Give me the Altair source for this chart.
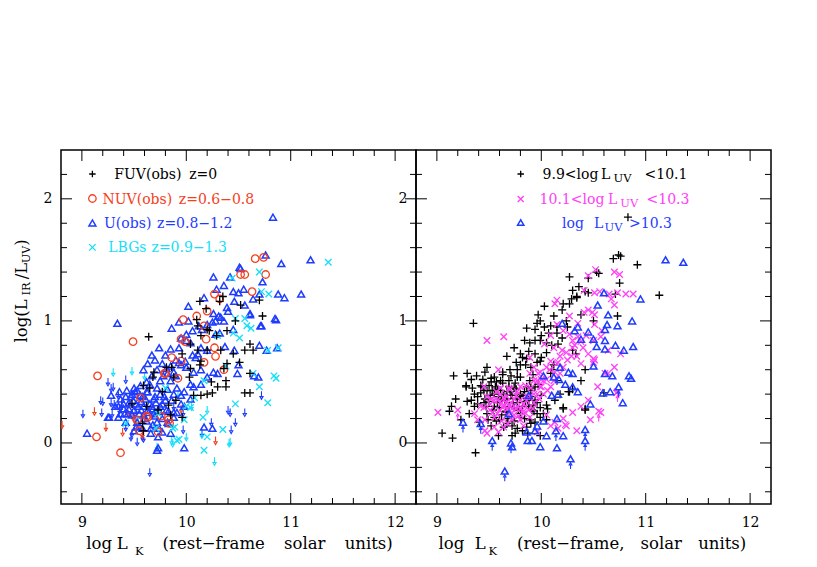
import altair as alt
import pandas as pd

# ---------------- data ----------------
# Left panel: log L_K , log(L_IR/L_UV)
FUV_Z0 = [(9.64,0.87),(10.13,1.16),(10.19,1.10),(10.35,1.20),(10.32,1.16),(10.52,1.13),(10.73,1.04),(10.70,1.17),
          (10.10,1.01),(10.11,0.96),(10.20,0.93),(10.22,0.92),(10.39,0.92),(10.47,1.00),(10.29,0.88),(10.14,0.88),
          (10.04,0.81),(9.96,0.73),(10.11,0.76),(10.20,0.76),(10.33,0.76),(10.45,0.73),(10.56,0.76),(10.61,0.81),
          (10.64,0.76),(10.51,0.66),(10.39,0.65),(10.36,0.61),(10.14,0.67),(10.13,0.64),(10.04,0.61),(9.86,0.62),
          (9.81,0.62),(9.69,0.58),(9.68,0.54),(9.88,0.54),(10.03,0.54),(10.61,0.57),(10.38,0.51),(10.38,0.46),
          (10.24,0.50),(10.30,0.46),(9.59,0.47),(9.65,0.45),(10.20,0.40),(10.14,0.39),(10.07,0.39),(10.25,0.41),
          (10.56,0.41),(10.61,0.41),(9.48,0.32),(9.83,0.31),(9.85,0.23),(9.96,0.21),(9.58,0.16),(9.59,0.10),
          (9.73,0.27),(9.62,0.30),(9.77,0.42),(9.90,0.35)]
NUV_Z07 = [(10.66,1.51),(10.74,1.52),(10.52,1.38),(10.56,1.38),(10.76,1.38),(10.27,1.22),(10.32,1.18),(10.63,1.24),
           (10.20,1.08),(10.10,1.04),(9.97,1.01),(9.49,0.83),(9.95,0.85),(10.17,0.96),(10.19,0.85),(10.27,0.78),
           (10.28,0.71),(9.86,0.70),(9.95,0.67),(9.79,0.57),(9.92,0.53),(10.17,0.66),(10.36,0.60),(9.80,0.57),
           (9.56,0.37),(9.63,0.21),(9.53,0.19),(9.83,0.19),(9.73,0.09),(9.55,0.10),(9.15,0.55),(9.14,0.05),
           (9.37,-0.08),(9.62,0.22),(9.76,0.22),(9.84,0.16),(9.99,0.83)]
NUV_LIM = [(8.81,0.15),(9.12,0.26),(9.23,0.13),(9.39,0.09),(9.44,0.25),(9.48,0.23),(10.28,0.02),(9.95,0.28),
           (9.58,0.07),(9.50,0.20)]
U_Z1 = [(10.83,1.85),(11.19,1.50),(10.91,1.47),(10.76,1.54),(10.52,1.43),(10.51,1.44),(10.26,1.36),(10.42,1.36),
        (10.29,1.26),(10.36,1.29),(10.45,1.24),(10.50,1.23),(10.55,1.26),(10.64,1.18),(10.70,1.22),(10.73,1.32),
        (10.88,1.22),(10.94,1.19),(11.10,1.22),(10.02,1.12),(10.17,1.19),(10.26,1.06),(10.40,1.08),(10.61,1.06),
        (10.85,1.02),(10.72,0.96),(9.34,0.98),(9.86,0.94),(9.93,0.99),(10.02,1.00),(10.12,0.96),(10.25,0.99),
        (10.33,1.03),(10.36,1.00),(10.28,0.89),(10.32,0.90),(10.00,0.84),(10.04,0.82),(9.93,0.78),(9.74,0.78),
        (9.67,0.72),(9.85,0.77),(10.14,0.78),(10.20,0.76),(10.37,0.79),(10.46,0.76),(10.77,0.76),(10.87,0.78),
        (10.70,0.80),(10.86,1.01),(10.71,0.96),(10.61,1.05),(9.59,0.60),(9.77,0.65),(9.81,0.61),(9.95,0.64),
        (10.00,0.62),(10.07,0.58),(10.14,0.60),(10.30,0.57),(10.49,0.57),(10.69,0.54),(10.65,0.55),(10.50,0.64),
        (9.48,0.40),(9.56,0.39),(9.37,0.36),(9.42,0.38),(9.50,0.45),(9.53,0.43),(9.65,0.48),(9.72,0.45),
        (9.85,0.51),(9.91,0.45),(9.98,0.42),(10.04,0.48),(9.59,0.30),(9.65,0.32),(9.70,0.38),(9.79,0.38),
        (9.86,0.35),(9.95,0.32),(9.25,0.21),(9.32,0.30),(9.37,0.24),(9.44,0.24),(9.55,0.24),(9.52,0.32),
        (9.59,0.23),(9.81,0.27),(9.50,0.10),(9.72,0.17),(9.72,-0.06),(10.17,0.13),(10.25,0.12),(9.05,0.08),
        (9.26,0.21),(9.35,0.21),(9.43,0.43),(9.52,0.13),(9.73,-0.04),(9.98,-0.04),(9.73,0.05),(9.83,0.16),
        (9.56,0.47),(9.62,0.42),(9.68,0.28),(9.75,0.30),(9.62,0.18),(9.66,0.12),(9.45,0.33),(9.40,0.28),
        (9.57,0.27),(9.70,0.22),(9.88,0.25),(9.78,0.55),(9.90,0.68),(10.09,0.70),(10.45,0.93),(10.56,1.13),
        (9.28,0.39),(9.36,0.42),(9.40,0.32),(9.47,0.38),(9.51,0.42),(9.58,0.38),(9.63,0.42),(9.69,0.36),
        (9.75,0.40),(9.82,0.44),(9.88,0.40),(9.95,0.39),(9.63,0.27),(9.69,0.24),(9.77,0.20),(9.82,0.17),
        (9.88,0.21),(9.48,0.23),(9.42,0.17),(9.53,0.17),(9.58,0.12),(9.66,0.08),(9.77,0.09),(9.85,0.08),
        (9.91,0.25),(9.98,0.30),(10.04,0.36),(10.07,0.46),(10.14,0.48),(10.20,0.54),(10.26,0.58),(9.75,0.51),
        (9.82,0.57),(9.88,0.58),(9.93,0.66),(9.99,0.67),(10.06,0.72),(10.11,0.73),(9.95,0.86),(10.00,0.89),
        (10.06,0.92),(10.15,0.93),(10.20,0.97),(10.28,1.00),(10.31,1.04),(10.39,1.11),(10.46,1.16),
        (9.45,0.28),(9.49,0.35),(9.54,0.30),(9.57,0.34),(9.61,0.36),(9.64,0.25),(9.67,0.30),(9.71,0.33),
        (9.74,0.26),(9.77,0.32),(9.80,0.35),(9.83,0.26),(9.60,0.20),(9.55,0.14),(9.68,0.15),(9.74,0.12),
        (9.50,0.27),(9.41,0.24),(9.35,0.30),(9.62,0.50),(9.67,0.55),(9.72,0.60),(9.85,0.63),(9.90,0.55),
        (9.63,0.65),(9.70,0.68),(9.80,0.72)]
U_LIM = [(9.01,0.24),(9.18,0.35),(9.19,0.25),(9.28,0.33),(9.30,0.46),(9.35,0.39),(9.28,0.45),(9.47,0.05),
         (9.53,0.01),(9.65,-0.24),(9.97,0.11),(10.24,0.17),(10.42,0.25),(10.43,0.11),(10.47,0.17),(10.72,0.39),
         (10.15,0.08),(9.97,0.25),(9.38,0.32),(10.40,0.27),(10.56,0.25),(9.25,0.50),(9.42,0.52),(9.58,0.05),
         (9.88,0.30),(9.20,0.34),(9.31,0.32),(9.29,0.24),(9.36,0.27),(9.45,0.32),(9.51,0.25),(9.42,0.13),
         (9.48,0.08),(9.59,0.04)]
LBG = [(11.36,1.48),(10.70,1.40),(10.44,1.35),(10.72,1.24),(10.79,1.22),(10.56,1.02),(10.47,1.02),(10.45,0.90),
       (10.58,0.96),(10.62,0.94),(10.51,0.86),(10.78,0.76),(10.88,0.78),(10.64,0.57),(10.84,0.55),(10.86,0.53),
       (10.70,0.46),(10.78,0.33),(10.47,0.32),(10.08,0.37),(10.16,0.21),(10.35,0.11),(10.20,0.05),(10.17,-0.06),
       (9.91,0.02),(9.93,0.03),(9.71,0.12),(9.87,0.12),(9.98,0.19),(9.73,0.24),(10.17,0.51),(9.42,0.16),
       (10.04,0.29),(9.89,0.13),(10.00,0.30),(9.80,0.45),(10.30,0.88),(10.38,0.63)]
LBG_LIM = [(9.30,0.58),(9.48,0.59),(10.20,0.27),(10.27,-0.15),(10.41,0.00),(10.00,0.05),(10.15,0.07),(9.86,0.02),
           (9.72,-0.03),(9.87,0.00),(10.42,0.01),(9.60,0.55),(9.70,0.25),(9.92,0.40),(10.05,0.30),(9.54,0.18)]

# Right panel: split by log L_UV
LUV_LOW = [(10.76,1.53),(10.74,1.54),(10.69,1.51),(10.92,1.46),(10.55,1.39),(10.53,1.40),(10.45,1.35),(10.27,1.36),
           (10.75,1.31),(10.36,1.28),(10.45,1.23),(10.30,1.25),(10.71,1.22),(11.13,1.21),(10.34,1.19),(10.27,1.14),
           (10.03,1.12),(10.20,1.09),(10.12,1.04),(10.73,1.04),(10.50,1.00),(9.35,0.98),(9.99,1.00),(9.96,0.98),
           (9.86,0.94),(9.94,0.93),(10.03,0.95),(10.09,0.96),(9.94,0.84),(9.99,0.84),(10.05,0.82),(10.16,0.81),
           (9.74,0.78),(9.67,0.71),(9.80,0.73),(9.88,0.75),(9.86,0.69),(9.94,0.73),(9.96,0.66),(10.30,0.76),
           (10.33,0.73),(9.80,0.64),(9.85,0.64),(9.77,0.60),(9.48,0.62),(9.46,0.58),(9.63,0.58),(9.71,0.55),
           (9.29,0.57),(9.16,0.55),(9.55,0.54),(9.61,0.51),(9.69,0.51),(9.77,0.54),(9.89,0.51),(9.97,0.48),
           (10.42,0.60),(10.38,0.51),(10.27,0.42),(10.00,0.39),(9.94,0.35),(10.05,0.31),(9.28,0.46),(9.34,0.45),
           (9.43,0.46),(9.48,0.43),(9.55,0.40),(9.67,0.42),(9.80,0.40),(9.39,0.38),(9.18,0.36),(9.29,0.34),
           (9.36,0.30),(9.45,0.33),(9.55,0.30),(9.69,0.30),(9.77,0.33),(9.85,0.34),(9.14,0.30),(9.12,0.26),
           (9.48,0.24),(9.55,0.21),(9.60,0.19),(9.80,0.21),(9.89,0.19),(9.99,0.21),(10.21,0.29),(10.42,0.27),
           (9.05,0.08),(9.15,0.04),(9.37,-0.08),(9.75,0.08),(9.72,0.14),(10.60,0.41),(10.42,0.28),(10.21,0.28),
           (10.83,1.85),(9.58,0.44),(9.62,0.36),(9.72,0.39),(9.52,0.50),(9.66,0.25),(9.74,0.45),(9.90,0.45),
           (10.10,0.60),(10.00,0.70),(9.92,0.56),(10.15,0.90),(10.24,1.00),(9.91,0.27),(9.64,0.13),(9.82,0.10),
           (9.28,0.47),(9.42,0.47),(9.52,0.53),(9.56,0.46),(9.63,0.49),(9.69,0.46),(9.75,0.49),(9.80,0.54),
           (9.86,0.46),(9.45,0.43),(9.51,0.39),(9.59,0.38),(9.65,0.35),(9.71,0.39),(9.77,0.36),(9.83,0.39),
           (9.90,0.43),(9.94,0.46),(9.39,0.32),(9.47,0.30),(9.60,0.29),(9.66,0.26),(9.74,0.29),(9.80,0.24),
           (9.88,0.30),(9.93,0.26),(9.99,0.29),(10.02,0.24),(9.31,0.24),(9.23,0.19),(9.41,0.17),(9.52,0.14),
           (9.67,0.16),(9.77,0.12),(9.86,0.13),(9.94,0.17),(10.05,0.19),(9.59,0.06),(9.72,0.06),(9.87,0.08),
           (9.99,0.06),(10.06,0.28),(10.13,0.35),(10.18,0.40),(10.26,0.42),(10.30,0.44),(10.15,0.51),(10.09,0.57),
           (10.12,0.64),(9.99,0.67),(9.89,0.82),(9.84,0.84),(10.00,0.88),(10.07,0.90),(9.97,1.05),(10.15,0.95),
           (10.21,1.14),(10.29,1.18),(10.34,1.20),(10.42,1.24),
           (9.33,0.52),(9.38,0.55),(9.44,0.52),(9.50,0.47),(9.53,0.43),(9.57,0.50),(9.61,0.43),(9.64,0.40),
           (9.67,0.36),(9.70,0.42),(9.73,0.33),(9.76,0.44),(9.79,0.38),(9.82,0.30),(9.84,0.42),(9.87,0.35),
           (9.90,0.38),(9.92,0.31),(9.96,0.33),(9.58,0.33),(9.54,0.27),(9.50,0.34),(9.46,0.36),(9.42,0.41),
           (9.36,0.40),(9.33,0.35),(9.62,0.23),(9.68,0.20),(9.74,0.18),(9.78,0.27),(9.84,0.20),(9.90,0.16),
           (9.96,0.24),(9.57,0.18),(9.49,0.19),(9.63,0.56),(9.70,0.60),(9.76,0.66),(9.82,0.70),(9.90,0.62),
           (10.05,0.74),(10.10,0.80),(10.20,0.86),(10.25,0.95),(10.38,1.05)]
LUV_MID = [(10.52,1.42),(10.45,1.37),(10.70,1.40),(10.75,1.38),(10.41,1.25),(10.51,1.23),(10.56,1.24),(10.65,1.22),
           (10.73,1.23),(10.81,1.22),(10.88,1.22),(10.67,1.18),(10.15,1.17),(10.13,1.14),(10.45,1.09),(10.49,1.07),
           (10.51,1.05),(10.27,1.04),(9.48,0.84),(9.64,0.87),(10.15,0.97),(10.21,0.92),(10.27,0.89),(10.09,0.88),
           (10.03,0.81),(10.12,0.78),(10.20,0.76),(10.30,0.78),(10.34,0.71),(10.45,0.73),(10.50,0.69),(10.51,0.68),
           (10.64,0.76),(10.38,0.65),(10.15,0.65),(9.89,0.70),(9.93,0.62),(9.99,0.58),(10.05,0.62),(10.02,0.51),
           (9.89,0.57),(9.96,0.51),(9.80,0.46),(10.06,0.43),(9.96,0.40),(9.89,0.38),(9.80,0.35),(9.59,0.60),
           (9.45,0.46),(9.61,0.40),(9.55,0.35),(9.64,0.30),(9.71,0.33),(9.45,0.29),(9.51,0.27),(9.58,0.24),
           (9.67,0.23),(9.74,0.23),(9.83,0.24),(9.72,0.19),(9.80,0.19),(9.88,0.27),(9.36,0.24),(9.39,0.19),
           (9.20,0.27),(9.46,0.10),(9.59,0.09),(9.83,0.14),(9.96,0.09),(10.09,0.14),(10.23,0.15),(10.34,0.10),
           (10.47,0.19),(10.55,0.26),(10.73,0.42),(10.61,0.57),(9.01,0.25),(9.48,0.08),(10.57,0.25),(10.24,0.14),
           (10.16,0.12),(10.72,0.41),(10.50,0.66),(9.62,0.33),(9.68,0.28),(9.76,0.28),(9.70,0.44),(9.85,0.30),
           (9.93,0.33),(10.00,0.46),
           (9.42,0.30),(9.48,0.38),(9.51,0.32),(9.58,0.35),(9.63,0.29),(9.67,0.38),(9.74,0.36),(9.77,0.30),
           (9.83,0.32),(9.86,0.38),(9.93,0.40),(9.99,0.46),(10.02,0.40),(10.09,0.46),(10.12,0.51),(10.18,0.57),
           (10.21,0.62),(10.25,0.68),(10.29,0.71),(10.30,0.84),(10.35,0.87),(10.38,0.83),(10.43,0.88),(10.50,0.84),
           (10.57,0.87),(10.58,0.92),(10.18,0.71),(10.13,0.58),(10.09,0.67),(10.05,0.52),(9.97,0.57),(9.93,0.51),
           (9.85,0.47),(9.77,0.42),(9.69,0.45),(9.61,0.45),(9.55,0.21),(9.46,0.19),(9.55,0.13),(9.64,0.13),
           (9.71,0.24),(9.83,0.26),(9.89,0.21),(10.05,0.23),(10.13,0.17),(10.21,0.20),(10.30,0.25),(10.38,0.30),
           (10.45,0.35),(10.54,0.46),(10.64,0.57),(10.70,0.62),(10.76,0.73),(10.70,1.13),(10.51,0.97),(10.41,1.07),
           (10.35,0.98),
           (9.60,0.27),(9.66,0.33),(9.72,0.28),(9.78,0.22),(9.52,0.36),(9.57,0.42),(9.64,0.37),(9.70,0.31),
           (9.76,0.39),(9.80,0.28),(9.86,0.35),(9.92,0.28),(9.98,0.36),(9.53,0.25),(9.62,0.18),(9.68,0.16),
           (9.90,0.45),(10.00,0.52),(10.08,0.60),(10.16,0.66),(10.24,0.74),(10.32,0.80),(10.40,0.78)]
LUV_HIGH = [(11.19,1.50),(11.36,1.48),(10.95,1.18),(10.60,1.23),(10.54,1.13),(10.64,1.05),(10.87,1.00),(10.73,0.96),
            (10.63,0.97),(10.61,0.93),(10.35,0.95),(10.32,0.92),(10.20,0.98),(10.45,0.91),(10.38,0.85),(10.50,0.85),
            (10.61,0.84),(10.53,0.79),(10.61,0.77),(10.71,0.80),(10.79,0.76),(10.88,0.79),(10.02,0.55),(10.12,0.54),
            (10.18,0.62),(10.26,0.58),(10.30,0.57),(10.50,0.63),(10.61,0.57),(10.68,0.55),(10.84,0.55),(10.86,0.53),
            (10.17,0.52),(10.30,0.46),(10.35,0.42),(10.23,0.48),(10.10,0.39),(10.16,0.40),(10.74,0.46),(10.59,0.41),
            (10.66,0.42),(10.78,0.33),(10.47,0.32),(10.15,0.20),(10.21,0.06),(9.99,-0.03),(10.15,-0.04),(9.87,0.02),
            (9.91,0.02),(9.88,0.39),(9.69,0.24),(9.42,0.16),(9.25,0.17),(9.53,0.02),(9.72,-0.03),(9.71,0.00),
            (9.96,0.14),(10.02,0.18),(10.14,0.10),(10.42,0.11),(10.42,0.02),(10.28,-0.13),(9.65,-0.23),
            (9.86,0.09),(9.94,0.10),(10.05,0.06)]
# points in the right panel drawn with a lower-limit arrow
HIGH_LIM = [(9.25,0.17),(9.42,0.16),(9.53,0.02),(9.71,0.00),(10.14,0.10),(10.42,0.11),(10.42,0.02),(10.28,-0.13),
            (9.65,-0.23),(10.74,0.46)]
MID_LIM = [(9.20,0.27),(10.55,0.26),(10.73,0.42)]

X_DOMAIN = [8.8, 12.2]
Y_DOMAIN = [-0.5, 2.4]
X_LABELS = [9, 10, 11, 12]
Y_LABELS = [0, 1, 2]
X_MINOR = [9.2, 9.4, 9.6, 9.8, 10.2, 10.4, 10.6, 10.8, 11.2, 11.4, 11.6, 11.8]
Y_MINOR = [-0.4, -0.2, 0.2, 0.4, 0.6, 0.8, 1.2, 1.4, 1.6, 1.8, 2.2]

# ---------------- styling ----------------
W, H = 355, 354
FONT = "DejaVu Serif"
BLACK = "#000000"
RED = "#f5401e"
BLUE = "#1e3cff"
CYAN = "#14defa"
MAGENTA = "#ff40f6"
LEG = 14      # legend font size
TIT = 16.5    # axis title font size
SUB = 11.5    # subscript font size

PLUS = "M-1,0L1,0M0,-1L0,1"
CROSS = "M-1,-1L1,1M-1,1L1,-1"
DOWN = "M0,-1L0,0.45M-0.4,0.3L0,1L0.4,0.3Z"
UP = "M0,1L0,-0.45M-0.4,-0.3L0,-1L0.4,-0.3Z"

DUMMY = pd.DataFrame({"d": [0]})

XAXIS = alt.Axis(values=X_LABELS, format="d", labelPadding=11, title=None, ticks=False,
                 domain=False, grid=False, labelFont=FONT, labelFontSize=14, labelColor=BLACK)
YAXIS = alt.Axis(values=Y_LABELS, format="d", labelPadding=9, title=None, ticks=False,
                 domain=False, grid=False, labelFont=FONT, labelFontSize=14, labelColor=BLACK)


def X(field):
    return alt.X(field, scale=alt.Scale(domain=X_DOMAIN, nice=False, zero=False), axis=XAXIS)


def Y(field):
    return alt.Y(field, scale=alt.Scale(domain=Y_DOMAIN, nice=False, zero=False), axis=YAXIS)


def pts(pairs, color, shape, size, sw=1.2, yoff=None):
    df = pd.DataFrame(pairs, columns=["x", "y"])
    enc = dict(x=X("x:Q"), y=Y("y:Q"))
    if yoff is not None:
        enc["yOffset"] = alt.value(yoff)
    return alt.Chart(df).mark_point(shape=shape, size=size, color=color, filled=False,
                                    strokeWidth=sw, opacity=1, clip=True).encode(**enc)


def txt(s, px, py, size=LEG, color=BLACK, angle=None, align="center"):
    kw = dict(align=align, baseline="alphabetic", font=FONT, fontSize=size, color=color)
    if angle is not None:
        kw["angle"] = angle
    return alt.Chart(DUMMY).mark_text(**kw).encode(
        x=alt.value(px), y=alt.value(py), text=alt.value(s))


def sym(px, py, color, shape, size, sw=1.2):
    return alt.Chart(DUMMY).mark_point(shape=shape, size=size, color=color, filled=False,
                                       strokeWidth=sw, opacity=1).encode(
        x=alt.value(px), y=alt.value(py))


def ticks():
    xmaj = pd.DataFrame({"v": X_LABELS})
    xmin = pd.DataFrame({"v": X_MINOR})
    ymaj = pd.DataFrame({"v": Y_LABELS})
    ymin = pd.DataFrame({"v": Y_MINOR})
    out = []
    rule = dict(color=BLACK, strokeWidth=1)
    for df, ln in [(xmaj, 11), (xmin, 6)]:
        out.append(alt.Chart(df).mark_rule(**rule).encode(
            x=X("v:Q"), y=alt.value(H), y2=alt.value(H - ln)))
        out.append(alt.Chart(df).mark_rule(**rule).encode(
            x=X("v:Q"), y=alt.value(0), y2=alt.value(ln)))
    for df, ln in [(ymaj, 11), (ymin, 6)]:
        out.append(alt.Chart(df).mark_rule(**rule).encode(
            y=Y("v:Q"), x=alt.value(0), x2=alt.value(ln)))
        out.append(alt.Chart(df).mark_rule(**rule).encode(
            y=Y("v:Q"), x=alt.value(W), x2=alt.value(W - ln)))
    return out


# ---------------- left panel ----------------
left_layers = ticks() + [
    pts(U_LIM, BLUE, DOWN, 64, 1.1),
    pts(LBG_LIM, CYAN, DOWN, 64, 1.1),
    pts(NUV_LIM, RED, DOWN, 64, 1.1),
    pts(U_Z1, BLUE, "triangle-up", 48, 1.5),
    pts(NUV_Z07, RED, "circle", 56, 1.3),
    pts(LBG, CYAN, CROSS, 42, 1.3),
    pts(FUV_Z0, BLACK, PLUS, 64, 1.3),
    # legend
    sym(31.4, 24, BLACK, PLUS, 42, 1.3),
    txt("FUV(obs)", 86.9, 29), txt("z=0", 142.2, 29),
    sym(31.4, 48.5, RED, "circle", 56, 1.3),
    txt("NUV(obs)", 76.4, 54, color=RED), txt("z=0.6\u22120.8", 155.5, 54, color=RED),
    sym(31.4, 73, BLUE, "triangle-up", 48, 1.5),
    txt("U(obs)", 66.7, 78, color=BLUE), txt("z=0.8\u22121.2", 133.7, 78, color=BLUE),
    sym(31.4, 97.4, CYAN, CROSS, 42, 1.3),
    txt("LBGs", 66.4, 102.4, color=CYAN), txt("z=0.9\u22121.3", 128.2, 102.4, color=CYAN),
    # x title
    txt("log", 38.2, 398.7, TIT), txt("L", 61.2, 398.7, TIT), txt("K", 78.2, 404.7, SUB),
    txt("(rest\u2212frame", 152.7, 398.7, TIT), txt("solar", 243.7, 398.7, TIT), txt("units)", 307.7, 398.7, TIT),
    # y title (rotated, reads upward)
    txt("log(L", -34.3, 171, TIT, angle=270), txt("IR", -30.8, 139, SUB, angle=270),
    txt("/L", -34.3, 121, TIT, angle=270), txt("UV", -30.8, 104.5, 11, angle=270),
    txt(")", -34.3, 92.5, TIT, angle=270),
]
left = alt.layer(*left_layers).properties(width=W, height=H)

# ---------------- right panel ----------------
right_layers = ticks() + [
    pts(LUV_LOW, BLACK, PLUS, 64, 1.3),
    pts(MID_LIM, MAGENTA, UP, 42, 1.1, yoff=7),
    pts(LUV_MID, MAGENTA, CROSS, 42, 1.3),
    pts(HIGH_LIM, BLUE, UP, 42, 1.1, yoff=7),
    pts(LUV_HIGH, BLUE, "triangle-up", 48, 1.5),
    # legend
    sym(104.7, 24, BLACK, PLUS, 42, 1.3),
    txt("9.9<log", 154.5, 29), txt("L", 189.7, 29), txt("UV", 206.5, 32.4, SUB), txt("<10.1", 250, 29),
    sym(104.7, 49, MAGENTA, CROSS, 36, 1.3),
    txt("10.1<log", 156, 54, color=MAGENTA), txt("L", 196.6, 54, color=MAGENTA),
    txt("UV", 213.2, 57.4, SUB, color=MAGENTA), txt("<10.3", 252, 54, color=MAGENTA),
    sym(104.7, 72.5, BLUE, "triangle-up", 40, 1.5),
    txt("log", 157, 78, color=BLUE), txt("L", 182.6, 78, color=BLUE),
    txt("UV", 197.5, 81.4, SUB, color=BLUE), txt(">10.3", 234.5, 78, color=BLUE),
    # x title
    txt("log", 35.4, 398.7, TIT), txt("L", 64.2, 398.7, TIT), txt("K", 76.7, 404.7, SUB),
    txt("(rest\u2212frame,", 154.7, 398.7, TIT), txt("solar", 245.2, 398.7, TIT), txt("units)", 306.2, 398.7, TIT),
]
right = alt.layer(*right_layers).properties(width=W, height=H)

chart = alt.hconcat(left, right, spacing=0, bounds="flush").properties(
    padding={"left": 4, "top": 140, "right": 5, "bottom": 5},
    background="white",
).configure_view(stroke=BLACK, strokeWidth=1.5)

chart.save("out.html", embed_options={"renderer": "svg", "actions": False})
